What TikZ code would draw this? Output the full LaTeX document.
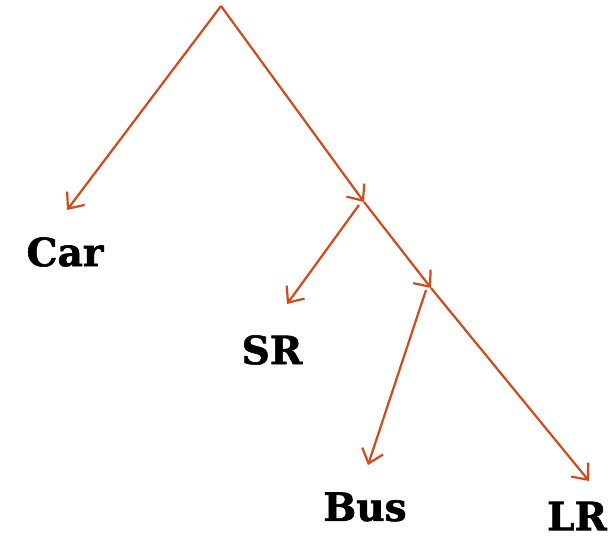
\documentclass[tikz,border=0pt]{standalone}
\usepackage{fontspec}
\setmainfont{DejaVu Serif}
\newfontfamily\lblfont[FakeBold=1.5]{DejaVu Serif Bold}
\usetikzlibrary{arrows.meta}
\definecolor{edgeor}{HTML}{D04A1A}
\begin{document}
\begin{tikzpicture}[x=1pt,y=-1pt,
  edge/.style={draw=edgeor,line width=2.2pt,-{Straight Barb[length=13pt,width=22pt,line width=2.2pt]}},
  lbl/.style={font=\lblfont\fontsize{39}{42}\selectfont,text=black,inner sep=0pt}]
\useasboundingbox (0,0) rectangle (613,540);
\coordinate (root) at (221,6);
\coordinate (n1) at (364,202);
\coordinate (n2) at (431,288);
\coordinate (tcar) at (67,210);
\coordinate (tsr) at (287,304);
\coordinate (tbus) at (368,465);
\coordinate (tlr) at (589,481);
\node[lbl] (car) at (65,252) {Car};
\node[lbl] (sr) at (272,350) {SR};
\node[lbl] (bus) at (365,507) {Bus};
\node[lbl] (lr) at (577,516) {LR};
\draw[edge] (root) -- (tcar);
\draw[edge] (root) -- (n1);
\draw[edge] (359,205) -- (tsr);
\draw[edge] (n1) -- (n2);
\draw[edge] (426,290) -- (tbus);
\draw[edge] (n2) -- (tlr);
\end{tikzpicture}
\end{document}
